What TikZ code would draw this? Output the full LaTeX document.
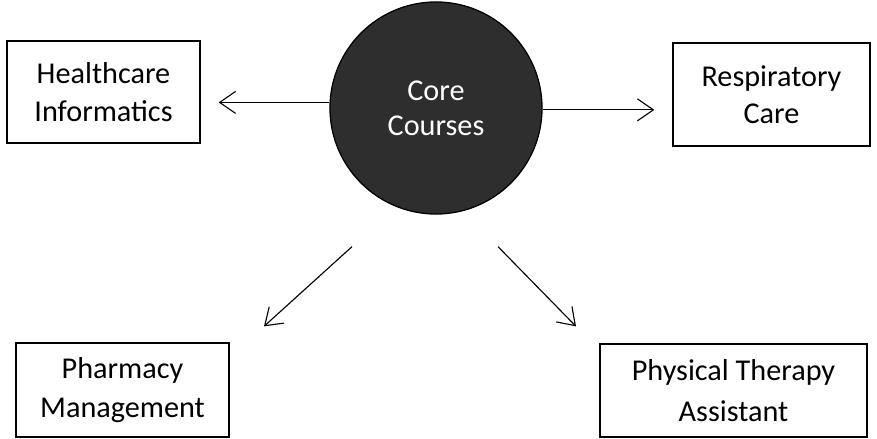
\documentclass[tikz,border=0pt]{standalone}
\usepackage{fontspec}
\setmainfont{Carlito}
\usetikzlibrary{arrows.meta, calc}

\begin{document}
\begin{tikzpicture}[x=0.025cm, y=-0.025cm, >={Straight Barb[length=4mm, width=5.5mm]},
  every node/.style={font=\fontsize{21.5pt}{26.5pt}\selectfont},
  box/.style={draw, line width=0.9pt, align=center, inner sep=0pt},
  hub/.style={circle, draw, line width=0.9pt, fill=black!82, text=white, align=center, minimum size=5.3cm, inner sep=0pt},
  link/.style={->, line width=0.8pt}]
  \useasboundingbox (0,0) rectangle (877,439);
  \node[hub, font=\fontsize{21.5pt}{25pt}\selectfont] (core) at (436,108) {Core\\Courses};
  \node[box, minimum width=193*0.025cm, minimum height=102*0.025cm] (informatics) at (103.5,92) {Healthcare\\Informatics};
  \node[box, minimum width=197*0.025cm, minimum height=103*0.025cm] (respiratory) at (771.5,94.5) {Respiratory\\Care};
  \node[box, minimum width=213*0.025cm, minimum height=94*0.025cm, font=\fontsize{21.5pt}{27.5pt}\selectfont] (pharmacy) at (122.5,390) {Pharmacy\\Management};
  \node[box, minimum width=267*0.025cm, minimum height=93*0.025cm, font=\fontsize{21.5pt}{29.5pt}\selectfont] (therapy) at (733.5,390.5) {Physical Therapy\\Assistant};
  \draw[link, shorten >=18*0.025cm] (core.177) -- (core.177 -| informatics.east);
  \draw[link, shorten >=18*0.025cm] (core.-1) -- (core.-1 -| respiratory.west);
  \draw[link] ($(core.south)+(-84,32)$) -- ($(pharmacy.north)+(141.5,-16)$);
  \draw[link] ($(core.south)+(62,32)$) -- ($(therapy.north)+(-157.5,-17)$);
\end{tikzpicture}
\end{document}
